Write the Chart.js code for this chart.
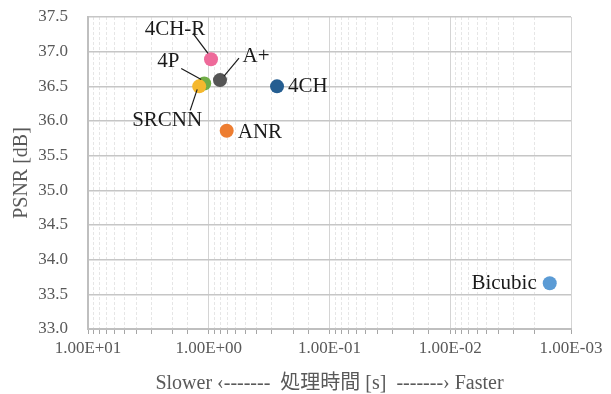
<!DOCTYPE html>
<html>
<head>
<meta charset="utf-8">
<script src="https://cdn.jsdelivr.net/npm/chart.js@4"></script>
<style>
  html,body{margin:0;padding:0;background:#fff;}
  #wrap{width:611px;height:394px;}
</style>
</head>
<body>
<div id="wrap"><canvas id="chart" width="611" height="394"></canvas></div>
<script>
// values
const methods = ['Bicubic','ANR','4CH','SRCNN','4P','A+','4CH-R'];
const times   = [0.0015, 0.71, 0.272, 1.2, 1.09, 0.807, 0.958];   // seconds
const psnr    = [33.66, 35.86, 36.50, 36.50, 36.54, 36.59, 36.89]; // dB
const colors  = ['#5b9bd5','#ed7d31','#255e91','#f5b82e','#70ad47','#555555','#ee6a9a'];
const decadeValues = [10, 1, 0.1, 0.01, 0.001];
const decadeLabels = ['1.00E+01','1.00E+00','1.00E-01','1.00E-02','1.00E-03'];
const yTicks = [33.0,33.5,34.0,34.5,35.0,35.5,36.0,36.5,37.0,37.5];

const serif = "'Liberation Serif','Times New Roman',serif";

// where each label sits relative to its point (px)
const labelStyle = {
  'Bicubic': {align:'right', dx:-13, dy:0},
  'ANR':     {align:'left',  dx:11,  dy:2},
  '4CH':     {align:'left',  dx:11,  dy:0},
  'SRCNN':   {align:'center',dx:-32, dy:34, line:[-9,24,-2,3]},
  '4P':      {align:'center',dx:-36, dy:-22, line:[-23,-15,-3,-4]},
  'A+':      {align:'center',dx:36,  dy:-24, line:[19,-22,4,-4]},
  '4CH-R':   {align:'center',dx:-36, dy:-30, line:[-18,-26,-3,-6]}
};

const isDecade = v => Math.abs(Math.log10(v) - Math.round(Math.log10(v))) < 1e-6;

const pointLabels = {
  id:'pointLabels',
  afterDatasetsDraw(chart){
    const ctx = chart.ctx;
    const xs = chart.scales.x, ys = chart.scales.y;
    ctx.save();
    ctx.font = '21px ' + serif;
    ctx.textBaseline = 'middle';
    methods.forEach((m,i)=>{
      const px = xs.getPixelForValue(times[i]);
      const py = ys.getPixelForValue(psnr[i]);
      const st = labelStyle[m];
      if(st.line){
        ctx.strokeStyle = '#1a1a1a';
        ctx.lineWidth = 1.2;
        ctx.beginPath();
        ctx.moveTo(px+st.line[0], py+st.line[1]);
        ctx.lineTo(px+st.line[2], py+st.line[3]);
        ctx.stroke();
      }
      ctx.fillStyle = '#1a1a1a';
      ctx.textAlign = st.align;
      ctx.fillText(m, px+st.dx, py+st.dy);
    });
    ctx.restore();
  }
};

new Chart(document.getElementById('chart'),{
  type:'scatter',
  data:{
    datasets: methods.map((m,i)=>({
      label:m,
      data:[{x:times[i], y:psnr[i]}],
      backgroundColor:colors[i],
      borderColor:colors[i],
      pointRadius:7,
      pointHoverRadius:7,
      borderWidth:0
    }))
  },
  options:{
    responsive:false,
    animation:false,
    layout:{padding:{top:17,right:40,left:0,bottom:0}},
    plugins:{legend:{display:false},tooltip:{enabled:false}},
    scales:{
      x:{
        type:'logarithmic',
        reverse:true,
        min:0.001,
        max:10,
        afterFit(s){ s.height = 65; },
        afterBuildTicks(s){ s.ticks = s.ticks.filter(t=>t.value>=0.001-1e-12 && t.value<=10+1e-9); },
        ticks:{
          autoSkip:false,
          maxRotation:0,
          padding:4,
          color:'#595959',
          font:{family:serif,size:17},
          callback(v){
            const k = decadeValues.findIndex(d=>Math.abs(d-v)/d<1e-6);
            return k>=0 ? decadeLabels[k] : '';
          }
        },
        grid:{
          color:c=> isDecade(c.tick.value) ? '#d4d4d4' : '#e6e6e6',
          lineWidth:1,
          drawTicks:true,
          tickLength:5,
          tickColor:'#a6a6a6'
        },
        border:{
          display:true,
          color:'#bfbfbf',
          width:2,
          dash:c=> (c.tick && !isDecade(c.tick.value)) ? [3,2] : []
        },
        title:{
          display:true,
          text:'Slower \u2039-------  処理時間 [s]  -------\u203a Faster',
          color:'#595959',
          font:{family:"'Liberation Serif','Noto Sans CJK JP',serif",size:20},
          padding:{top:4,bottom:-2}
        }
      },
      y:{
        min:33,
        max:37.5,
        afterFit(s){ s.width = 88; },
        afterBuildTicks(s){ s.ticks = yTicks.map(v=>({value:v})); },
        ticks:{
          color:'#595959',
          padding:0,
          font:{family:serif,size:17},
          callback:v=>v.toFixed(1)
        },
        grid:{color:'#c6c6c6',lineWidth:1.5,drawTicks:true,tickLength:20,tickColor:'rgba(0,0,0,0)'},
        border:{display:true,color:'#bfbfbf',width:2},
        title:{
          display:true,
          text:'PSNR [dB]',
          color:'#595959',
          font:{family:serif,size:20},
          padding:{top:10,bottom:0}
        }
      }
    }
  },
  plugins:[pointLabels]
});
</script>
</body>
</html>
